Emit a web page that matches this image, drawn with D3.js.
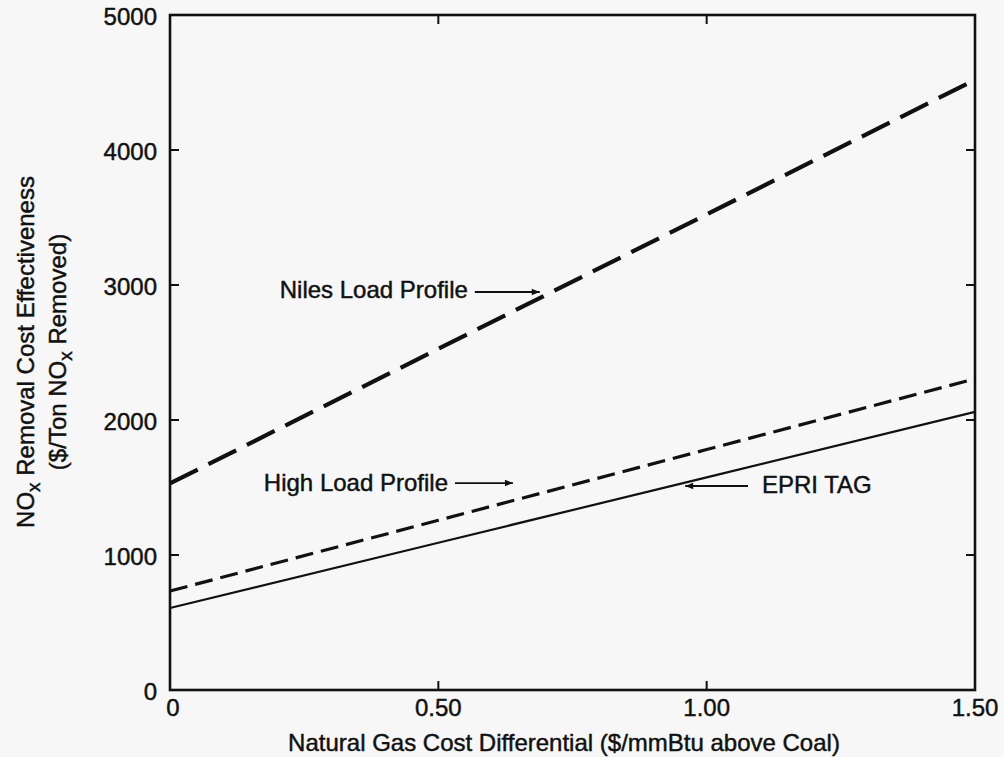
<!DOCTYPE html>
<html>
<head>
<meta charset="utf-8">
<script src="https://cdn.jsdelivr.net/npm/d3@7"></script>
<style>
  html, body { margin: 0; padding: 0; background: #f7f7f7; }
  svg { display: block; }
  text { font-family: "Liberation Sans", Arial, Helvetica, sans-serif; fill: #111; stroke: #111; stroke-width: 0.45px; }
</style>
</head>
<body>
<svg id="chart" width="1004" height="757"></svg>
<script>
// Gas cost differential ($/mmBtu above coal)
const gasCost = [0, 0.5, 1.0, 1.5];

// NOx removal cost effectiveness ($/ton NOx removed)
const nilesLoad = [1530, 2527, 3523, 4520];
const highLoad  = [733, 1257, 1781, 2305];
const epriTag   = [607, 1091, 1575, 2060];

const xTicks = [0, 0.5, 1.0, 1.5];
const xTickLabels = ["0", "0.50", "1.00", "1.50"];
const yTicks = [0, 1000, 2000, 3000, 4000, 5000];
const yTickLabels = ["0", "1000", "2000", "3000", "4000", "5000"];

// Callout labels: text anchor point and arrow (from -> to), in data units
const callouts = [
  { text: "Niles Load Profile", anchor: "end",   tx: 0.555, ty: 2948, ax1: 0.568, ax2: 0.689, ay: 2948 },
  { text: "High Load Profile",  anchor: "end",   tx: 0.518, ty: 1519, ax1: 0.531, ax2: 0.639, ay: 1533 },
  { text: "EPRI TAG",           anchor: "start", tx: 1.103, ty: 1504, ax1: 1.077, ax2: 0.960, ay: 1511 }
];

const svg = d3.select("#chart");
const plotLeft = 170, plotRight = 975, plotTop = 15, plotBottom = 690;
const fontSize = 24;

const x = d3.scaleLinear().domain([0, 1.5]).range([plotLeft, plotRight]);
const y = d3.scaleLinear().domain([0, 5000]).range([plotBottom, plotTop]);

const defs = svg.append("defs");
defs.append("marker")
  .attr("id", "arrowhead")
  .attr("viewBox", "0 0 10 10")
  .attr("refX", 10).attr("refY", 5)
  .attr("markerWidth", 11).attr("markerHeight", 8)
  .attr("markerUnits", "userSpaceOnUse")
  .attr("orient", "auto")
  .append("path")
  .attr("d", "M0,1 L10,5 L0,9 Z")
  .attr("fill", "#111");

// Inward ticks on all four sides
const tickLen = 9;
const tickG = svg.append("g").attr("stroke", "#111").attr("stroke-width", 2);
yTicks.slice(1, -1).forEach(v => {
  tickG.append("line").attr("x1", x(0)).attr("x2", x(0) + tickLen).attr("y1", y(v)).attr("y2", y(v));
  tickG.append("line").attr("x1", x(1.5)).attr("x2", x(1.5) - tickLen).attr("y1", y(v)).attr("y2", y(v));
});
xTicks.slice(1, -1).forEach(v => {
  tickG.append("line").attr("x1", x(v)).attr("x2", x(v)).attr("y1", y(0)).attr("y2", y(0) - tickLen);
  tickG.append("line").attr("x1", x(v)).attr("x2", x(v)).attr("y1", y(5000)).attr("y2", y(5000) + tickLen);
});

// Plot frame
svg.append("rect")
  .attr("x", x(0)).attr("y", y(5000))
  .attr("width", x(1.5) - x(0)).attr("height", y(0) - y(5000))
  .attr("fill", "none").attr("stroke", "#111").attr("stroke-width", 2.6);

// Tick labels
svg.append("g").selectAll("text").data(yTicks).join("text")
  .attr("x", 157).attr("y", d => y(d) + 4)
  .attr("text-anchor", "end").attr("dominant-baseline", "middle")
  .attr("font-size", fontSize)
  .text((d, i) => yTickLabels[i]);

svg.append("g").selectAll("text").data(xTicks).join("text")
  .attr("x", (d, i) => x(d) + (i === 0 ? 3 : 0)).attr("y", 716)
  .attr("text-anchor", "middle")
  .attr("font-size", fontSize)
  .text((d, i) => xTickLabels[i]);

// Axis titles
svg.append("text")
  .attr("x", 564).attr("y", 751)
  .attr("text-anchor", "middle").attr("font-size", fontSize)
  .text("Natural Gas Cost Differential ($/mmBtu above Coal)");

const yTitle1 = svg.append("text")
  .attr("transform", "translate(34,352) rotate(-90)")
  .attr("text-anchor", "middle").attr("font-size", fontSize);
yTitle1.append("tspan").text("NO");
yTitle1.append("tspan").attr("font-size", 19).attr("dy", 6).text("x");
yTitle1.append("tspan").attr("dy", -6).text(" Removal Cost Effectiveness");

const yTitle2 = svg.append("text")
  .attr("transform", "translate(66,352) rotate(-90)")
  .attr("text-anchor", "middle").attr("font-size", fontSize);
yTitle2.append("tspan").text("($/Ton NO");
yTitle2.append("tspan").attr("font-size", 19).attr("dy", 6).text("x");
yTitle2.append("tspan").attr("dy", -6).text(" Removed)");

// Series lines
const line = d3.line().x((d, i) => x(gasCost[i])).y(d => y(d));
const series = [
  { values: nilesLoad, width: 4.2, dash: "31,12" },
  { values: highLoad,  width: 3.2, dash: "18,8" },
  { values: epriTag,   width: 2.2, dash: null }
];
svg.append("g").selectAll("path").data(series).join("path")
  .attr("d", d => line(d.values))
  .attr("fill", "none").attr("stroke", "#111")
  .attr("stroke-width", d => d.width)
  .attr("stroke-dasharray", d => d.dash);

// Callouts
const cg = svg.append("g");
callouts.forEach(c => {
  cg.append("text")
    .attr("x", x(c.tx)).attr("y", y(c.ty))
    .attr("text-anchor", c.anchor).attr("dominant-baseline", "middle")
    .attr("font-size", fontSize)
    .text(c.text);
  cg.append("line")
    .attr("x1", x(c.ax1)).attr("x2", x(c.ax2))
    .attr("y1", y(c.ay)).attr("y2", y(c.ay))
    .attr("stroke", "#111").attr("stroke-width", 1.8)
    .attr("marker-end", "url(#arrowhead)");
});
</script>
</body>
</html>
